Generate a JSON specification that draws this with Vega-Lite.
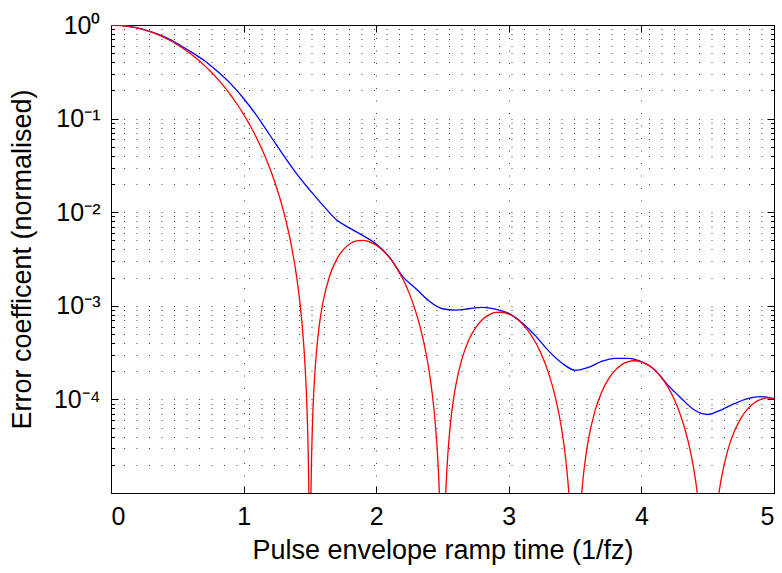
{
  "$schema": "https://vega.github.io/schema/vega-lite/v6.json",
  "width": 663,
  "height": 468,
  "autosize": {"type": "none"},
  "padding": {"left": 111, "top": 25, "right": 8, "bottom": 80},
  "background": "white",
  "datasets": {
    "red": [
      {"t":0,"e":1},{"t":0.05,"e":0.99535},{"t":0.1,"e":0.98147},{"t":0.15,"e":0.95869},{"t":0.2,"e":0.9276},
      {"t":0.25,"e":0.88889},{"t":0.3,"e":0.8435},{"t":0.35,"e":0.79242},{"t":0.4,"e":0.73683},{"t":0.45,"e":0.67789},
      {"t":0.5,"e":0.61685},{"t":0.55,"e":0.55488},{"t":0.6,"e":0.49325},{"t":0.65,"e":0.43291},{"t":0.7,"e":0.37489},
      {"t":0.75,"e":0.32},{"t":0.8,"e":0.26895},{"t":0.85,"e":0.22225},{"t":0.9,"e":0.18027},{"t":0.95,"e":0.1432},
      {"t":1,"e":0.11111},{"t":1.05,"e":0.08389},{"t":1.1,"e":0.06134},{"t":1.15,"e":0.04314},{"t":1.2,"e":0.02889},
      {"t":1.25,"e":0.01814},{"t":1.3,"e":0.010414},{"t":1.35,"e":0.00521},{"t":1.4,"e":0.002041},{"t":1.42,"e":0.0012389},
      {"t":1.44,"e":0.0006599},{"t":1.46,"e":0.0002773},{"t":1.47,"e":0.0001516},{"t":1.48,"e":0.00006545},{"t":1.49,"e":0.00001589},
      {"t":1.495,"e":0.000003913},{"t":1.5,"e":1e-9},{"t":1.505,"e":0.000003797},{"t":1.51,"e":0.00001496},{"t":1.52,"e":0.00005804},
      {"t":1.53,"e":0.0001266},{"t":1.54,"e":0.0002181},{"t":1.56,"e":0.0004602},{"t":1.58,"e":0.000766},{"t":1.6,"e":0.0011185},
      {"t":1.65,"e":0.0021072},{"t":1.7,"e":0.0030983},{"t":1.75,"e":0.0039507},{"t":1.8,"e":0.0045757},{"t":1.85,"e":0.0049299},
      {"t":1.9,"e":0.0050074},{"t":1.95,"e":0.0048312},{"t":2,"e":0.0044444},{"t":2.05,"e":0.0039028},{"t":2.1,"e":0.0032667},
      {"t":2.15,"e":0.0025953},{"t":2.2,"e":0.0019416},{"t":2.25,"e":0.0013493},{"t":2.3,"e":0.0008501},{"t":2.35,"e":0.0004634},
      {"t":2.4,"e":0.0001966},{"t":2.42,"e":0.00012298},{"t":2.44,"e":0.00006746},{"t":2.46,"e":0.00002917},{"t":2.47,"e":0.00001617},
      {"t":2.48,"e":0.000007078},{"t":2.49,"e":0.000001742},{"t":2.5,"e":1e-9},{"t":2.51,"e":0.000001685},{"t":2.52,"e":0.000006621},
      {"t":2.53,"e":0.00001463},{"t":2.54,"e":0.00002553},{"t":2.56,"e":0.00005523},{"t":2.58,"e":0.00009418},{"t":2.6,"e":0.00014083},
      {"t":2.65,"e":0.00028086},{"t":2.7,"e":0.00043568},{"t":2.75,"e":0.00058443},{"t":2.8,"e":0.00071011},{"t":2.85,"e":0.00080061},
      {"t":2.9,"e":0.00084902},{"t":2.95,"e":0.0008534},{"t":3,"e":0.00081633},{"t":3.05,"e":0.00074402},{"t":3.1,"e":0.00064527},
      {"t":3.15,"e":0.00053037},{"t":3.2,"e":0.0004099},{"t":3.25,"e":0.00029385},{"t":3.3,"e":0.00019074},{"t":3.35,"e":0.000107},
      {"t":3.4,"e":0.000046658},{"t":3.42,"e":0.000029502},{"t":3.44,"e":0.000016355},{"t":3.46,"e":0.000007145},{"t":3.48,"e":0.000001752},
      {"t":3.5,"e":1e-9},{"t":3.52,"e":0.000001672},{"t":3.54,"e":0.000006509},{"t":3.56,"e":0.000014218},{"t":3.58,"e":0.000024478},
      {"t":3.6,"e":0.000036946},{"t":3.65,"e":0.00007538},{"t":3.7,"e":0.00011955},{"t":3.75,"e":0.0001638},{"t":3.8,"e":0.00020316},
      {"t":3.85,"e":0.00023366},{"t":3.9,"e":0.0002526},{"t":3.95,"e":0.00025868},{"t":4,"e":0.00025195},{"t":4.05,"e":0.00023369},
      {"t":4.1,"e":0.00020615},{"t":4.15,"e":0.00017224},{"t":4.2,"e":0.00013527},{"t":4.25,"e":0.00009849},{"t":4.3,"e":0.0000649},
      {"t":4.35,"e":0.000036946},{"t":4.4,"e":0.000016343},{"t":4.42,"e":0.000010392},{"t":4.44,"e":0.000005793},{"t":4.46,"e":0.000002545},
      {"t":4.48,"e":0.000000627},{"t":4.5,"e":1e-9},{"t":4.52,"e":0.000000605},{"t":4.54,"e":0.000002368},{"t":4.56,"e":0.0000052},
      {"t":4.58,"e":0.000008998},{"t":4.6,"e":0.00001365},{"t":4.65,"e":0.0000282},{"t":4.7,"e":0.000045271},{"t":4.75,"e":0.000062771},
      {"t":4.8,"e":0.000078762},{"t":4.85,"e":0.000091614},{"t":4.9,"e":0.00010014},{"t":4.95,"e":0.00010366},{"t":5,"e":0.00010203}
    ],
    "blue": [
      {"t":0,"e":1},{"t":0.1,"e":0.982},{"t":0.2,"e":0.93},{"t":0.3,"e":0.85},{"t":0.4,"e":0.75},
      {"t":0.5,"e":0.635},{"t":0.6,"e":0.52},{"t":0.7,"e":0.42},{"t":0.8,"e":0.322},{"t":0.9,"e":0.238},
      {"t":1,"e":0.164},{"t":1.1,"e":0.107},{"t":1.2,"e":0.066},{"t":1.3,"e":0.0407},{"t":1.4,"e":0.0257},
      {"t":1.5,"e":0.0172},{"t":1.6,"e":0.01175},{"t":1.7,"e":0.00832},{"t":1.8,"e":0.00676},{"t":1.9,"e":0.00562},
      {"t":2,"e":0.00457},{"t":2.1,"e":0.00331},{"t":2.2,"e":0.00205},{"t":2.3,"e":0.00152},{"t":2.4,"e":0.00112},
      {"t":2.5,"e":0.00093},{"t":2.6,"e":0.0009},{"t":2.7,"e":0.00093},{"t":2.8,"e":0.00096},{"t":2.9,"e":0.00092},
      {"t":3,"e":0.00083},{"t":3.1,"e":0.00066},{"t":3.2,"e":0.00048},{"t":3.3,"e":0.00033},{"t":3.4,"e":0.000245},
      {"t":3.5,"e":0.000205},{"t":3.6,"e":0.00022},{"t":3.7,"e":0.000255},{"t":3.8,"e":0.000275},{"t":3.9,"e":0.000275},
      {"t":4,"e":0.000253},{"t":4.1,"e":0.000208},{"t":4.2,"e":0.000142},{"t":4.3,"e":0.000103},{"t":4.4,"e":0.000077},
      {"t":4.5,"e":0.000069},{"t":4.6,"e":0.000077},{"t":4.7,"e":0.00009},{"t":4.8,"e":0.000102},{"t":4.9,"e":0.000107},
      {"t":5,"e":0.000102}
    ]
  },
  "layer": [
    {
      "data": {"name": "blue"},
      "mark": {"type": "line", "color": "#0000ff", "strokeWidth": 1.3, "clip": true, "interpolate": "monotone"},
      "encoding": {
        "x": {
          "field": "t", "type": "quantitative",
          "scale": {"domain": [0, 5], "nice": false, "zero": false},
          "axis": {
            "orient": "bottom",
            "values": [0, 1, 2, 3, 4, 5],
            "format": "d",
            "grid": true,
            "tickSize": -7,
            "labelPadding": 18,
            "title": "Pulse envelope ramp time (1/fz)",
            "titlePadding": 8
          }
        },
        "y": {
          "field": "e", "type": "quantitative",
          "scale": {"type": "log", "domain": [0.00001, 1], "nice": false},
          "axis": {
            "orient": "left",
            "values": [0.00001,0.00002,0.00003,0.00004,0.00005,0.00006,0.00007,0.00008,0.00009,
                       0.0001,0.0002,0.0003,0.0004,0.0005,0.0006,0.0007,0.0008,0.0009,
                       0.001,0.002,0.003,0.004,0.005,0.006,0.007,0.008,0.009,
                       0.01,0.02,0.03,0.04,0.05,0.06,0.07,0.08,0.09,
                       0.1,0.2,0.3,0.4,0.5,0.6,0.7,0.8,0.9,1],
            "labelExpr": "datum.value == 1 ? '10⁰' : datum.value == 0.1 ? '10⁻¹' : datum.value == 0.01 ? '10⁻²' : datum.value == 0.001 ? '10⁻³' : datum.value == 0.0001 ? '10⁻⁴' : ''",
            "tickSize": {"condition": {"test": "abs(log(datum.value)/LN10 - round(log(datum.value)/LN10)) < 0.000001", "value": -7}, "value": -3.5},
            "labelPadding": 18,
            "labelBaseline": "middle",
            "grid": true,
            "title": "Error coefficent (normalised)",
            "titlePadding": 17
          }
        }
      }
    },
    {
      "data": {"name": "red"},
      "mark": {"type": "line", "color": "#ff0000", "strokeWidth": 1.3, "clip": true, "interpolate": "monotone"},
      "encoding": {
        "x": {"field": "t", "type": "quantitative", "axis": null},
        "y": {"field": "e", "type": "quantitative", "axis": null}
      }
    },
    {
      "data": {"name": "blue"},
      "mark": {"type": "line", "strokeOpacity": 0, "clip": true},
      "encoding": {
        "x": {
          "field": "t", "type": "quantitative",
          "axis": {"orient": "top", "values": [0, 1, 2, 3, 4, 5], "labels": false, "grid": false, "tickSize": -7, "title": null}
        },
        "y": {
          "field": "e", "type": "quantitative",
          "axis": {
            "orient": "right",
            "values": [0.00001,0.00002,0.00003,0.00004,0.00005,0.00006,0.00007,0.00008,0.00009,
                       0.0001,0.0002,0.0003,0.0004,0.0005,0.0006,0.0007,0.0008,0.0009,
                       0.001,0.002,0.003,0.004,0.005,0.006,0.007,0.008,0.009,
                       0.01,0.02,0.03,0.04,0.05,0.06,0.07,0.08,0.09,
                       0.1,0.2,0.3,0.4,0.5,0.6,0.7,0.8,0.9,1],
            "labels": false,
            "grid": false,
            "tickSize": {"condition": {"test": "abs(log(datum.value)/LN10 - round(log(datum.value)/LN10)) < 0.000001", "value": -7}, "value": -3.5},
            "title": null
          }
        }
      }
    }
  ],
  "resolve": {"axis": {"x": "independent", "y": "independent"}},
  "config": {
    "view": {"stroke": "black", "strokeWidth": 1},
    "axis": {
      "domainColor": "black",
      "domainWidth": 1,
      "tickColor": "black",
      "tickWidth": 1,
      "labelColor": "black",
      "titleColor": "black",
      "labelFont": "Liberation Sans",
      "titleFont": "Liberation Sans",
      "labelFontSize": 25,
      "titleFontSize": 27,
      "titleFontWeight": "normal",
      "gridColor": "black",
      "gridDash": [1, 11.5],
      "gridOpacity": 0.75,
      "gridWidth": 1
    }
  }
}
